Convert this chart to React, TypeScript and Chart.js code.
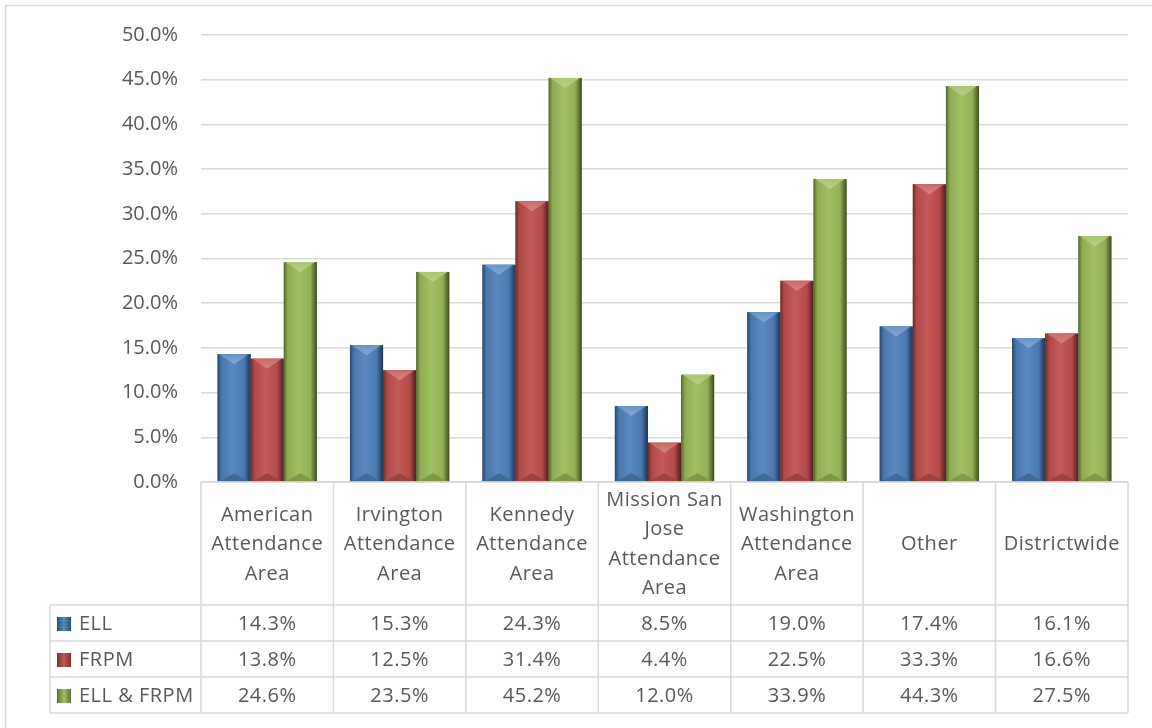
import React, { useEffect, useRef } from "react";
import { Chart, registerables } from "chart.js";

Chart.register(...registerables);

const categories: string[][] = [
  ["American", "Attendance", "Area"],
  ["Irvington", "Attendance", "Area"],
  ["Kennedy", "Attendance", "Area"],
  ["Mission San", "Jose", "Attendance", "Area"],
  ["Washington", "Attendance", "Area"],
  ["Other"],
  ["Districtwide"],
];
const ellValues = [14.3, 15.3, 24.3, 8.5, 19.0, 17.4, 16.1];
const frpmValues = [13.8, 12.5, 31.4, 4.4, 22.5, 33.3, 16.6];
const bothValues = [24.6, 23.5, 45.2, 12.0, 33.9, 44.3, 27.5];
const seriesNames = ["ELL", "FRPM", "ELL & FRPM"];
const seriesColors = ["#4F81BD", "#C0504D", "#9BBB59"];
const yTicks = [0, 5, 10, 15, 20, 25, 30, 35, 40, 45, 50];

const FONT = "'Open Sans', sans-serif";
const TEXT = "#595959";
const LINE = "#D9D9D9";

function shade(hex: string, f: number): string {
  const n = parseInt(hex.slice(1), 16);
  let r = (n >> 16) & 255, g = (n >> 8) & 255, b = n & 255;
  if (f < 0) {
    r = Math.round(r * (1 + f)); g = Math.round(g * (1 + f)); b = Math.round(b * (1 + f));
  } else {
    r = Math.round(r + (255 - r) * f); g = Math.round(g + (255 - g) * f); b = Math.round(b + (255 - b) * f);
  }
  return `rgb(${r},${g},${b})`;
}

const bevelPlugin = {
  id: "bevel",
  afterDatasetsDraw(chart: any) {
    const ctx = chart.ctx as CanvasRenderingContext2D;
    chart.data.datasets.forEach((ds: any, di: number) => {
      const meta = chart.getDatasetMeta(di);
      const base = seriesColors[di];
      meta.data.forEach((bar: any) => {
        const { x, y, width, base: b } = bar.getProps(["x", "y", "width", "base"], true);
        const l = x - width / 2, r = x + width / 2;
        const h = b - y;
        if (h <= 0) return;
        ctx.save();
        const g = ctx.createLinearGradient(l, 0, r, 0);
        g.addColorStop(0, shade(base, -0.45));
        g.addColorStop(0.12, shade(base, -0.08));
        g.addColorStop(0.45, shade(base, 0.06));
        g.addColorStop(0.8, shade(base, -0.06));
        g.addColorStop(1, shade(base, -0.6));
        ctx.fillStyle = g;
        ctx.fillRect(l, y, width, h);
        // top bevel: light V-shaped highlight
        const bev = Math.min(10, h / 2);
        const tg = ctx.createLinearGradient(0, y, 0, y + bev);
        tg.addColorStop(0, shade(base, 0.15));
        tg.addColorStop(1, shade(base, 0.3));
        ctx.beginPath();
        ctx.moveTo(l + 2, y);
        ctx.lineTo(r - 2, y);
        ctx.lineTo(x, y + bev);
        ctx.closePath();
        ctx.fillStyle = tg;
        ctx.fill();
        // bottom bevel shadow
        ctx.beginPath();
        ctx.moveTo(l + 2, b);
        ctx.lineTo(r - 2, b);
        ctx.lineTo(x, b - 8);
        ctx.closePath();
        ctx.fillStyle = shade(base, -0.18);
        ctx.fill();
        ctx.restore();
      });
    });
  },
};

const tablePlugin = {
  id: "dataTable",
  afterDraw(chart: any) {
    const ctx = chart.ctx as CanvasRenderingContext2D;
    const { left, right, bottom } = chart.chartArea;
    const n = categories.length;
    const w = (right - left) / n;
    const headerBottom = 605;
    const rowH = 36;
    const tableLeft = 50;
    ctx.save();
    ctx.strokeStyle = LINE;
    ctx.lineWidth = 1.5;
    const hline = (x1: number, x2: number, yy: number) => {
      ctx.beginPath(); ctx.moveTo(x1, yy); ctx.lineTo(x2, yy); ctx.stroke();
    };
    const vline = (xx: number, y1: number, y2: number) => {
      ctx.beginPath(); ctx.moveTo(xx, y1); ctx.lineTo(xx, y2); ctx.stroke();
    };
    hline(left, right, bottom);
    for (let i = 0; i <= 3; i++) hline(tableLeft, right, headerBottom + i * rowH);
    for (let i = 0; i <= n; i++) vline(left + i * w, bottom, headerBottom + 3 * rowH);
    vline(tableLeft, headerBottom, headerBottom + 3 * rowH);

    ctx.fillStyle = TEXT;
    ctx.font = `20px ${FONT}`;
    (ctx as any).letterSpacing = "0.5px";
    ctx.textAlign = "center";
    ctx.textBaseline = "middle";
    const lh = 29.5;
    const midH = (bottom + headerBottom) / 2 + 1;
    categories.forEach((lines, i) => {
      const cx = left + (i + 0.5) * w;
      const y0 = midH - ((lines.length - 1) * lh) / 2;
      lines.forEach((t, k) => ctx.fillText(t, cx, y0 + k * lh));
    });
    const rows = [ellValues, frpmValues, bothValues];
    rows.forEach((vals, ri) => {
      const cy = headerBottom + ri * rowH + rowH / 2 + 1;
      vals.forEach((v, i) => {
        ctx.fillText(v.toFixed(1) + "%", left + (i + 0.5) * w, cy);
      });
      const base = seriesColors[ri];
      const kx = 57, ky = cy - 7, ks = 14;
      const g = ctx.createLinearGradient(kx, 0, kx + ks, 0);
      g.addColorStop(0, shade(base, -0.4));
      g.addColorStop(0.5, shade(base, 0.05));
      g.addColorStop(1, shade(base, -0.4));
      ctx.fillStyle = g;
      ctx.fillRect(kx, ky, ks, ks);
      ctx.fillStyle = TEXT;
      ctx.textAlign = "left";
      ctx.fillText(seriesNames[ri], 79, cy);
      ctx.textAlign = "center";
    });
    ctx.restore();
  },
};

const frameBg = {
  id: "frameBg",
  beforeDraw(chart: any) {
    const ctx = chart.ctx as CanvasRenderingContext2D;
    ctx.save();
    ctx.fillStyle = "#FFFFFF";
    ctx.fillRect(0, 0, chart.width, chart.height);
    ctx.strokeStyle = LINE;
    ctx.lineWidth = 1.5;
    ctx.strokeRect(5.5, 5.5, chart.width + 10, chart.height + 10);
    ctx.restore();
  },
};

export default function App() {
  const ref = useRef<HTMLCanvasElement>(null);
  useEffect(() => {
    const labels = categories.map((c) => c.join(" "));
    const chart = new Chart(ref.current!, {
      type: "bar",
      data: {
        labels,
        datasets: [ellValues, frpmValues, bothValues].map((vals, i) => ({
          label: seriesNames[i],
          data: vals,
          backgroundColor: seriesColors[i],
          borderWidth: 0,
          categoryPercentage: 0.75,
          barPercentage: 1.0,
        })),
      },
      options: {
        animation: false,
        responsive: false,
        devicePixelRatio: 1,
        layout: { padding: { top: 34, right: 24, bottom: 246, left: 0 } },
        plugins: { legend: { display: false }, tooltip: { enabled: false } },
        scales: {
          x: { display: false },
          y: {
            min: 0,
            max: 50,
            afterFit: (s: any) => { s.width = 201; },
            afterBuildTicks: (s: any) => { s.ticks = yTicks.map((v) => ({ value: v })); },
            border: { display: false },
            grid: { color: LINE, lineWidth: 1.5, drawTicks: false },
            ticks: {
              padding: 23,
              color: TEXT,
              font: { family: FONT, size: 20 },
              callback: (v: any) => Number(v).toFixed(1) + "%",
            },
          },
        },
      },
      plugins: [frameBg, bevelPlugin, tablePlugin],
    });
    return () => chart.destroy();
  }, []);
  return (
    <div style={{ position: "fixed", left: 0, top: 0, width: 1152, height: 728 }}>
      <canvas ref={ref} width={1152} height={728} style={{ width: 1152, height: 728 }} />
    </div>
  );
}
